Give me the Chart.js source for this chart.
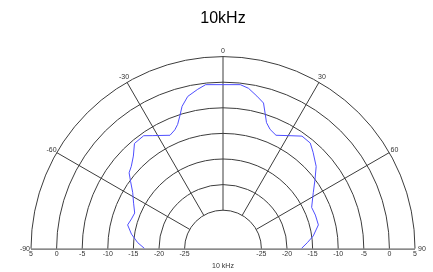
<!DOCTYPE html>
<html>
<head>
<meta charset="utf-8">
<script src="https://cdn.jsdelivr.net/npm/chart.js@4.4.1/dist/chart.umd.min.js"></script>
<style>
    html, body { margin: 0; padding: 0; background: #fff; }
    #wrap { width: 433px; height: 272px; position: relative; }
</style>
</head>
<body>
<div id="wrap"><canvas id="polar"></canvas></div>
<script>
// measured angles (deg, 0 = on axis) and levels (dB)
const angles = [-90, -86, -81, -76, -72, -68, -63, -58, -54, -51, -48, -44, -40, -35, -32, -25, -22, -20, -18, -16, -13, -9, -6,
    6, 9, 12.5, 15.5, 17.5, 19, 21.5, 25, 31, 35, 39.5, 43, 48.5, 53, 58, 65, 70, 76, 82, 86, 90];
const levels = [-17.2, -15.8, -14.4, -13.3, -13.7, -13.9, -12.9, -11.7, -10.2, -8.9, -8.4, -7.3, -5.6, -5.5, -6.4, -8.0, -7.4, -6.6, -5.2, -3.5, -1.9, -0.9, -0.2,
    -0.2, -0.7, -1.9, -2.9, -5.0, -6.4, -7.4, -8.0, -6.7, -5.6, -5.7, -6.7, -8.2, -10.0, -11.7, -13.4, -13.3, -13.3, -14.7, -16.0, -17.2];

const ringTicks = [5, 0, -5, -10, -15, -20, -25];
const spokeAngles = [-60, -30, 0, 30, 60];
const angleLabels = [-90, -60, -30, 0, 30, 60, 90];

const dbMin = -32.5;   // level that sits at the centre
const dbMax = 5;
const span = dbMax - dbMin;

// polar -> cartesian in dB units
function toXY(deg, db) {
    const r = db - dbMin;
    const a = deg * Math.PI / 180;
    return { x: r * Math.sin(a), y: r * Math.cos(a) };
}

const points = angles.map((a, i) => toXY(a, levels[i]));

const polarGrid = {
    id: 'polarGrid',
    beforeDatasetsDraw(chart) {
        const ctx = chart.ctx;
        const xs = chart.scales.x, ys = chart.scales.y;
        const cx = xs.getPixelForValue(0);
        const cy = ys.getPixelForValue(0);
        const pxPerDb = xs.getPixelForValue(1) - cx;
        const rad = db => (db - dbMin) * pxPerDb;
        ctx.save();
        ctx.strokeStyle = '#3c3c3c';
        ctx.lineWidth = 1;
        // rings
        ringTicks.forEach(db => {
            ctx.beginPath();
            ctx.arc(cx, cy, rad(db), Math.PI, 2 * Math.PI);
            ctx.stroke();
        });
        // base line
        ctx.beginPath();
        ctx.moveTo(cx - rad(dbMax), cy + 0.5);
        ctx.lineTo(cx + rad(dbMax), cy + 0.5);
        ctx.stroke();
        // spokes
        const rIn = rad(ringTicks[ringTicks.length - 1]);
        const rOut = rad(dbMax);
        spokeAngles.forEach(deg => {
            const a = deg * Math.PI / 180;
            ctx.beginPath();
            ctx.moveTo(cx + rIn * Math.sin(a), cy - rIn * Math.cos(a));
            ctx.lineTo(cx + rOut * Math.sin(a), cy - rOut * Math.cos(a));
            ctx.stroke();
        });
        // ring labels on both sides
        ctx.fillStyle = '#333';
        ctx.font = '7px Arial, "Liberation Sans", sans-serif';
        ctx.textAlign = 'center';
        ctx.textBaseline = 'top';
        ringTicks.forEach(db => {
            ctx.fillText(String(db), cx - rad(db), cy + 2);
            ctx.fillText(String(db), cx + rad(db), cy + 2);
        });
        // angle labels
        ctx.textBaseline = 'middle';
        angleLabels.forEach(deg => {
            const a = deg * Math.PI / 180;
            if (deg === -90) {
                ctx.textAlign = 'right';
                ctx.fillText(String(deg), cx - rOut - 1, cy);
            } else if (deg === 90) {
                ctx.textAlign = 'left';
                ctx.fillText(String(deg), cx + rOut + 3, cy);
            } else {
                ctx.textAlign = 'center';
                const r = rOut + 6;
                ctx.fillText(String(deg), cx + r * Math.sin(a), cy - r * Math.cos(a));
            }
        });
        ctx.restore();
    }
};

new Chart(document.getElementById('polar').getContext('2d'), {
    type: 'scatter',
    data: {
        datasets: [{
            data: points,
            showLine: true,
            borderColor: '#4f4fff',
            borderWidth: 1,
            pointRadius: 0,
            tension: 0
        }]
    },
    options: {
        responsive: true,
        maintainAspectRatio: false,
        animation: false,
        layout: {
            padding: { left: 31, right: 18, top: 0, bottom: 0 }
        },
        plugins: {
            legend: { display: false },
            tooltip: { enabled: false },
            title: {
                display: true,
                text: '10kHz',
                color: '#000',
                font: { family: 'Arial, "Liberation Sans", sans-serif', size: 16, weight: 'normal' },
                padding: { top: 9, bottom: 29 }
            },
            subtitle: {
                display: true,
                position: 'bottom',
                text: '10 kHz',
                color: '#333',
                font: { family: 'Arial, "Liberation Sans", sans-serif', size: 7, weight: 'normal' },
                padding: { top: 13, bottom: 2 }
            }
        },
        scales: {
            x: { type: 'linear', display: false, min: -span, max: span },
            y: { type: 'linear', display: false, min: 0, max: span }
        }
    },
    plugins: [polarGrid]
});
</script>
</body>
</html>
